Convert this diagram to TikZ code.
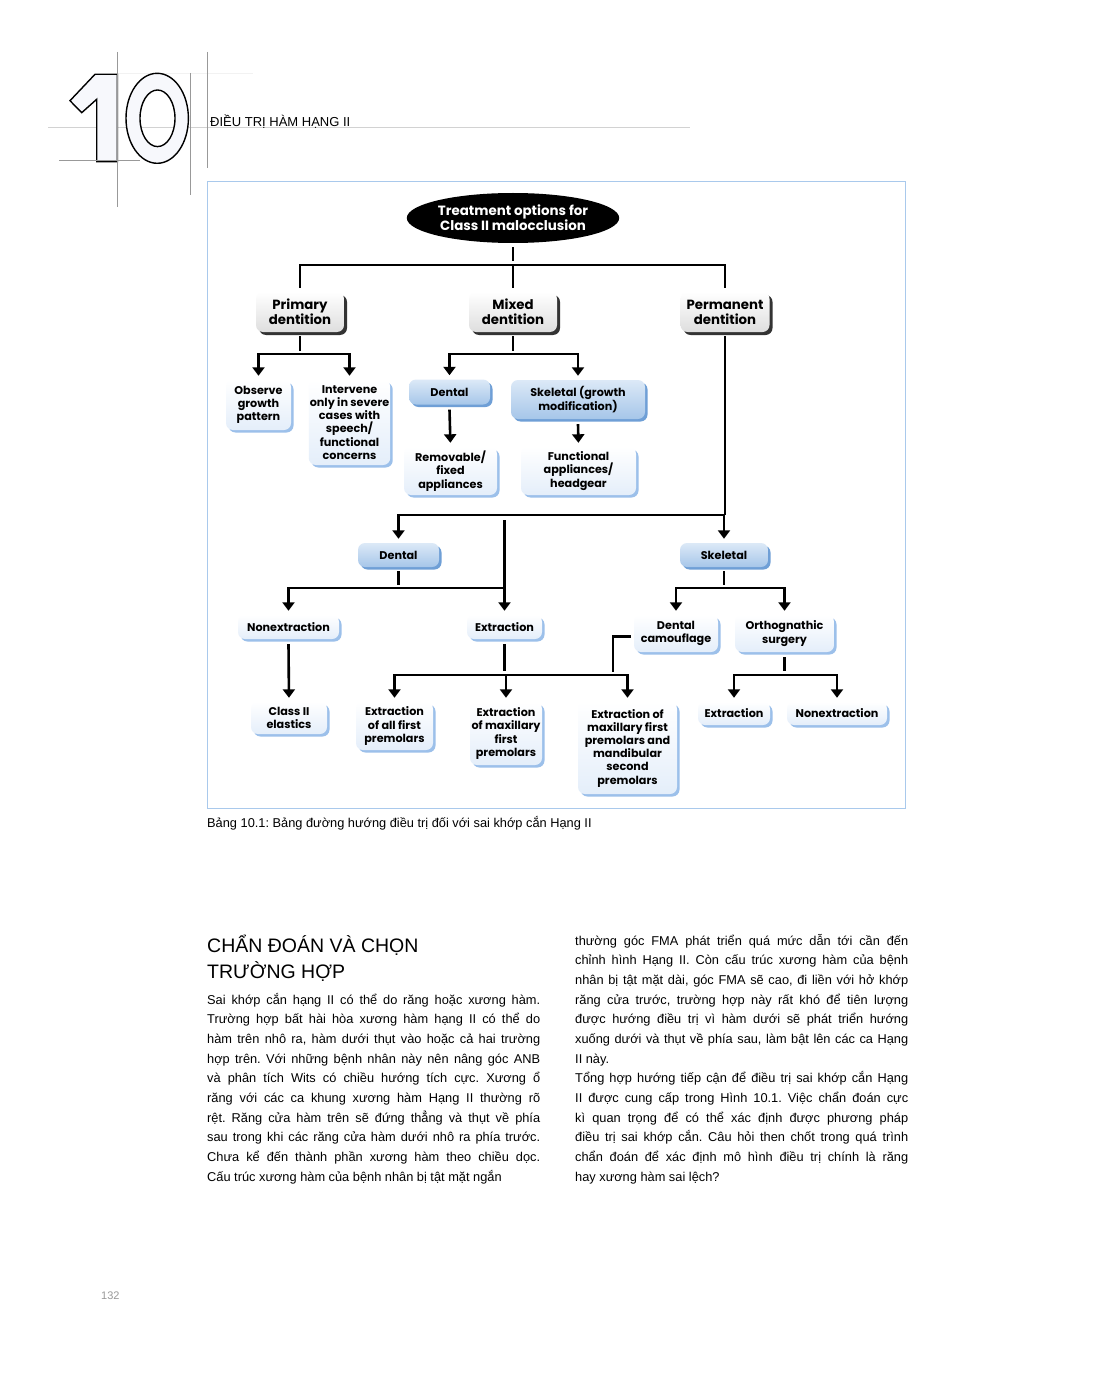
\documentclass[tikz,border=0pt]{standalone}
\usepackage{fontspec}
\setmainfont{Liberation Sans}
\newfontfamily\chartfont{Poppins}
\usetikzlibrary{shapes.geometric,shadows,arrows.meta}

\definecolor{framebl}{HTML}{A9C9EC}
\definecolor{boxbot}{HTML}{E4EEFA}
\definecolor{boxshd}{HTML}{9CC0EA}
\definecolor{bluetop}{HTML}{DCE9F7}
\definecolor{bluebot}{HTML}{A6C6E9}
\definecolor{blueshd}{HTML}{6F9FD6}
\definecolor{digitfill}{HTML}{F7F8FC}

\newcommand{\jl}[1]{\makebox[333pt][s]{#1}}
\frenchspacing

\tikzset{
  boxbase/.style={rectangle, rounded corners=7pt, align=center, inner sep=1pt,
    font=\chartfont\bfseries\fontsize{11.2}{13.2}\selectfont},
  optbox/.style={boxbase, top color=white, bottom color=boxbot,
    drop shadow={shadow xshift=2.5pt, shadow yshift=-2.5pt, fill=boxshd, opacity=1}},
  bluebox/.style={boxbase, top color=bluetop, bottom color=bluebot,
    drop shadow={shadow xshift=2.5pt, shadow yshift=-2.5pt, fill=blueshd, opacity=1}},
  agebox/.style={boxbase, top color=white, bottom color=black!13,
    font=\chartfont\bfseries\fontsize{13.3}{15}\selectfont,
    drop shadow={shadow xshift=3pt, shadow yshift=-3pt, fill=black!80, opacity=1}},
  conn/.style={line width=2.6pt},
  bar/.style={conn, line cap=rect},
  arr/.style={conn, -{Triangle[width=12pt,length=8.5pt]}, shorten >=4pt},
  bodyline/.style={anchor=base west, inner sep=0pt, font=\fontsize{12.8}{14}\selectfont},
  grayrule/.style={gray!80, line width=1pt}
}

\begin{document}
\begin{tikzpicture}[x=1pt,y=-1pt]
\useasboundingbox (0,0) rectangle (1102,1396);
\fill[white] (0,0) rectangle (1102,1396);

% chapter header
\draw[gray!35, line width=1pt] (48,128) -- (690,128);
\draw[gray!10, line width=0.8pt] (117,73) -- (253,73);
\filldraw[digitfill, draw=black, line width=1.4pt]
  (95,74.3) -- (117.3,74.3) -- (117.3,161.7) -- (96.7,161.7) -- (96.7,99.3)
  -- (81.7,112.7) -- (70,100.7) -- cycle;
\filldraw[digitfill, draw=black, line width=1.4pt, even odd rule]
  (157.2,118.3) ellipse (31.2 and 45) (157.5,118.3) ellipse (17.5 and 28.3);
\draw[grayrule] (117,52) -- (117,207);
\draw[grayrule] (190,73) -- (190,195);
\draw[grayrule] (207,52) -- (207,168);
\draw[grayrule] (59,161) -- (140,161);
\node[anchor=base west, inner sep=0pt, font=\fontsize{13}{15}\selectfont] (chapter) at (210,127) {ĐIỀU TRỊ HÀM HẠNG II};

% chart frame
\draw[framebl, line width=1pt] (207.5,182) rectangle (905.5,808);

% nodes
\node[ellipse, fill=black, text=white, minimum width=211pt, minimum height=50pt, inner sep=0pt, align=center,
  font=\chartfont\bfseries\fontsize{13.4}{15}\selectfont] (root) at (513,218) {Treatment options for\\Class II malocclusion};

\node[agebox, minimum width=88pt, minimum height=40pt] (primary) at (300,312) {Primary\\dentition};
\node[agebox, minimum width=88pt, minimum height=40pt] (mixed) at (513,312) {Mixed\\dentition};
\node[agebox, minimum width=89pt, minimum height=40pt] (permanent) at (725,312) {Permanent\\dentition};

\node[optbox, minimum width=65pt, minimum height=50pt] (observe) at (258.5,405) {Observe\\growth\\pattern};
\node[optbox, minimum width=81pt, minimum height=85pt] (intervene) at (349.5,422.5) {Intervene\\only in severe\\cases with\\speech/\\functional\\concerns};
\node[bluebox, minimum width=81pt, minimum height=25pt] (dentmix) at (449.5,392) {Dental};
\node[bluebox, minimum width=134pt, minimum height=39pt] (skelmix) at (578,399.5) {Skeletal (growth\\modification)};
\node[optbox, minimum width=93pt, minimum height=48pt] (removable) at (450.5,471) {Removable/\\fixed\\appliances};
\node[optbox, minimum width=115pt, minimum height=48pt] (functional) at (578.5,471) {Functional\\appliances/\\headgear};

\node[bluebox, minimum width=81pt, minimum height=24pt] (dentperm) at (398.5,555) {Dental};
\node[bluebox, minimum width=88pt, minimum height=24pt] (skelperm) at (724,555) {Skeletal};

\node[optbox, minimum width=101pt, minimum height=24pt] (nonextA) at (288.5,627) {Nonextraction};
\node[optbox, minimum width=75pt, minimum height=24pt] (extA) at (504.5,627) {Extraction};
\node[optbox, minimum width=84pt, minimum height=37pt] (camouflage) at (676,633.5) {Dental\\camouflage};
\node[optbox, minimum width=99pt, minimum height=37pt] (orthog) at (784.5,633.5) {Orthognathic\\surgery};

\node[optbox, minimum width=76pt, minimum height=32pt] (elastics) at (289,718) {Class II\\elastics};
\node[optbox, minimum width=77pt, minimum height=48pt] (extall) at (394.5,726) {Extraction\\of all first\\premolars};
\node[optbox, minimum width=72pt, minimum height=63pt] (extmax) at (506,733.5) {Extraction\\of maxillary\\first\\premolars};
\node[optbox, minimum width=99pt, minimum height=92pt] (extmaxmand) at (627.5,748) {Extraction of\\maxillary first\\premolars and\\mandibular\\second\\premolars};
\node[optbox, minimum width=72pt, minimum height=23pt] (extB) at (734,713.5) {Extraction};
\node[optbox, minimum width=100pt, minimum height=23pt] (nonextB) at (837,713.5) {Nonextraction};

% bar levels
\coordinate (bar1) at (0,265);
\coordinate (bar2) at (0,354);
\coordinate (bar4) at (0,515);
\coordinate (bar5) at (0,588);
\coordinate (bar6) at (0,675);
\coordinate (camoend) at (613,672);

% connectors
\draw[conn] ([yshift=-4pt]root.south) -- ([yshift=4pt]root.south |- bar1);
\draw[bar] (primary |- bar1) -- (permanent |- bar1);
\foreach \n in {primary,mixed,permanent}
  \draw[conn] (\n |- bar1) -- ([yshift=4pt]\n.north);

\draw[conn] ([yshift=-4pt]primary.south) -- ([yshift=3pt]primary.south |- bar2);
\draw[bar] (observe |- bar2) -- (intervene |- bar2);
\foreach \n in {observe,intervene}
  \draw[arr] (\n |- bar2) -- (\n.north);

\draw[conn] ([yshift=-4pt]mixed.south) -- ([yshift=3pt]mixed.south |- bar2);
\draw[bar] (dentmix |- bar2) -- (skelmix |- bar2);
\foreach \n in {dentmix,skelmix}
  \draw[arr] (\n |- bar2) -- (\n.north);

\draw[arr] ([yshift=-5pt]dentmix.south) -- (removable.north);
\draw[arr] ([yshift=-5pt]skelmix.south) -- (functional.north);

\draw[conn] ([yshift=-4pt]permanent.south) -- (permanent |- bar4);
\draw[bar] (dentperm |- bar4) -- (skelperm |- bar4);
\foreach \n in {dentperm,skelperm}
  \draw[arr] (\n |- bar4) -- (\n.north);
\draw[conn] ([yshift=-5pt]extA |- bar4) -- (extA |- bar5);

\draw[conn] ([yshift=-4pt]dentperm.south) -- ([yshift=3pt]dentperm.south |- bar5);
\draw[bar] (nonextA |- bar5) -- (extA |- bar5);
\foreach \n in {nonextA,extA}
  \draw[arr] (\n |- bar5) -- (\n.north);

\draw[arr] ([yshift=-5pt]nonextA.south) -- (elastics.north);

\draw[conn] ([yshift=-5pt]extA.south) -- ([yshift=4pt]extA.south |- bar6);
\draw[bar] (extall |- bar6) -- (extmaxmand |- bar6);
\foreach \n in {extall,extmax,extmaxmand}
  \draw[arr] (\n |- bar6) -- (\n.north);
\draw[conn] ([yshift=-3pt,xshift=-3pt]camouflage.west) -| (camoend);

\draw[conn] ([yshift=-4pt]skelperm.south) -- ([yshift=3pt]skelperm.south |- bar5);
\draw[bar] (camouflage |- bar5) -- (orthog |- bar5);
\foreach \n in {camouflage,orthog}
  \draw[arr] (\n |- bar5) -- (\n.north);

\draw[conn] ([yshift=-5pt]orthog.south) -- ([yshift=4pt]orthog.south |- bar6);
\draw[bar] (extB |- bar6) -- (nonextB |- bar6);
\foreach \n in {extB,nonextB}
  \draw[arr] (\n |- bar6) -- (\n.north);

% caption
\node[anchor=base west, inner sep=0pt, font=\fontsize{12.8}{14}\selectfont] (caption) at (207,827)
  {Bảng 10.1: Bảng đường hướng điều trị đối với sai khớp cắn Hạng II};

% section heading
\node[anchor=base west, inner sep=0pt, font=\fontsize{19.5}{26}\selectfont] (head1) at (207,952) {CHẨN ĐOÁN VÀ CHỌN};
\node[anchor=base west, inner sep=0pt, font=\fontsize{19.5}{26}\selectfont] (head2) at (207,978) {TRƯỜNG HỢP};

% left column
\foreach \ln [count=\i] in {
  {Sai khớp cắn hạng II có thể do răng hoặc xương hàm.},
  {Trường hợp bất hài hòa xương hàm hạng II có thể do},
  {hàm trên nhô ra, hàm dưới thụt vào hoặc cả hai trường},
  {hợp trên. Với những bệnh nhân này nên nâng góc ANB},
  {và phân tích Wits có chiều hướng tích cực. Xương ổ},
  {răng với các ca khung xương hàm Hạng II thường rõ},
  {rệt. Răng cửa hàm trên sẽ đứng thẳng và thụt về phía},
  {sau trong khi các răng cửa hàm dưới nhô ra phía trước.},
  {Chưa kể đến thành phần xương hàm theo chiều dọc.}}
  \node[bodyline] (left\i) at (207,{1004+19.67*(\i-1)}) {\jl{\ln}};
\node[bodyline] (left10) at (207,1181) {Cấu trúc xương hàm của bệnh nhân bị tật mặt ngắn};

% right column
\foreach \ln [count=\i] in {
  {thường góc FMA phát triển quá mức dẫn tới cần đến},
  {chỉnh hình Hạng II. Còn cấu trúc xương hàm của bệnh},
  {nhân bị tật mặt dài, góc FMA sẽ cao, đi liền với hở khớp},
  {răng cửa trước, trường hợp này rất khó để tiên lượng},
  {được hướng điều trị vì hàm dưới sẽ phát triển hướng},
  {xuống dưới và thụt về phía sau, làm bật lên các ca Hạng}}
  \node[bodyline] (right\i) at (575,{945+19.67*(\i-1)}) {\jl{\ln}};
\node[bodyline] (right7) at (575,1063) {II này.};
\foreach \ln [count=\i from 8] in {
  {Tổng hợp hướng tiếp cận để điều trị sai khớp cắn Hạng},
  {II được cung cấp trong Hình 10.1. Việc chẩn đoán cực},
  {kì quan trọng để có thể xác định được phương pháp},
  {điều trị sai khớp cắn. Câu hỏi then chốt trong quá trình},
  {chẩn đoán để xác định mô hình điều trị chính là răng}}
  \node[bodyline] (right\i) at (575,{945+19.67*(\i-1)}) {\jl{\ln}};
\node[bodyline] (right13) at (575,1181) {hay xương hàm sai lệch?};

% page number
\node[anchor=base west, inner sep=0pt, text=gray!80, font=\fontsize{11}{13}\selectfont] (pagenum) at (101,1299) {132};
\end{tikzpicture}
\end{document}
